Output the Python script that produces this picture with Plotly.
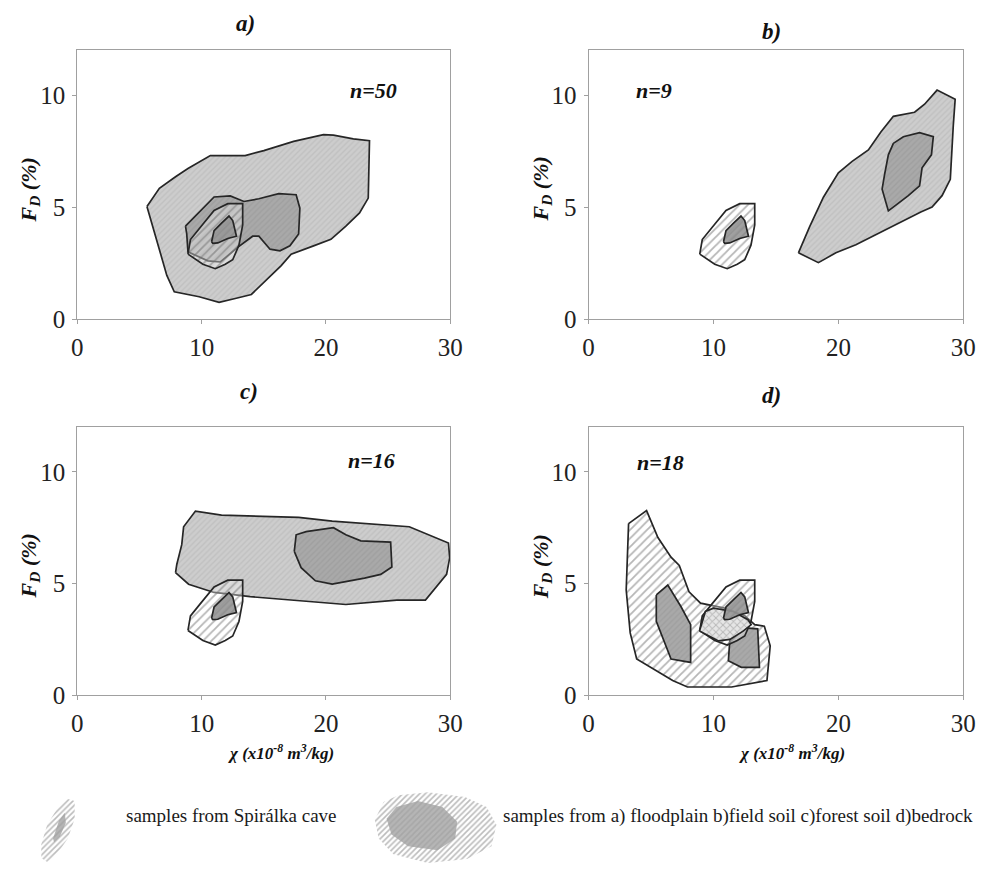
import plotly.graph_objects as go

# ---------------- data (chi x10^-8 m3/kg, FD %) ----------------
# Spirálka cave samples (same in every panel)
cave_outer_x = [8.9, 9.1, 9.9, 11.0, 12.1, 13.3, 13.3, 13.0, 12.5, 11.9, 11.1, 10.1]
cave_outer_y = [2.9, 3.55, 4.1, 4.85, 5.15, 5.15, 4.2, 3.3, 2.65, 2.45, 2.25, 2.45]
cave_inner_x = [10.8, 11.0, 11.6, 12.2, 12.5, 12.8, 12.1, 11.3, 10.9]
cave_inner_y = [3.45, 3.95, 4.28, 4.6, 4.4, 3.7, 3.6, 3.4, 3.38]

# a) floodplain
flood_outer_x = [5.6, 6.6, 7.9, 8.9, 10.7, 13.5, 15.0, 17.4, 19.8, 20.6, 22.2, 23.5, 23.4, 22.7,
                 21.6, 20.4, 19.0, 17.2, 16.4, 14.5, 14.0, 12.7, 11.4, 9.8, 7.8, 7.2, 6.6, 6.1]
flood_outer_y = [5.03, 5.84, 6.35, 6.72, 7.3, 7.3, 7.52, 7.93, 8.23, 8.21, 8.04, 7.96, 5.4, 4.74,
                 4.15, 3.56, 3.27, 2.9, 2.39, 1.36, 1.1, 0.92, 0.75, 1.0, 1.22, 1.95, 3.12, 4.15]
flood_inner_x = [8.7, 11.0, 12.3, 13.4, 14.6, 16.2, 17.6, 17.9, 17.8, 17.1, 16.3, 15.5, 14.6, 14.1,
                 12.9, 11.5, 10.5, 8.9, 8.8]
flood_inner_y = [4.15, 5.45, 5.5, 5.25, 5.37, 5.6, 5.55, 4.95, 3.8, 3.27, 3.05, 3.12, 3.7, 3.7,
                 3.2, 2.55, 2.6, 3.0, 3.8]

# b) field soil
field_outer_x = [16.8, 17.7, 18.8, 20.0, 21.1, 22.4, 23.4, 24.4, 26.1, 26.9, 27.9, 29.35, 29.2,
                 28.96, 28.3, 27.5, 26.6, 24.0, 21.4, 19.8, 18.4]
field_outer_y = [2.96, 4.13, 5.44, 6.53, 7.04, 7.55, 8.35, 9.05, 9.23, 9.59, 10.22, 9.81, 8.64,
                 6.24, 5.51, 5.0, 4.78, 4.05, 3.32, 2.96, 2.52]
field_inner_x = [24.4, 25.2, 26.5, 27.6, 27.45, 26.7, 26.5, 25.6, 24.0, 23.5, 23.7, 24.0]
field_inner_y = [7.84, 8.14, 8.32, 8.14, 7.33, 6.75, 5.95, 5.51, 4.83, 5.8, 6.46, 7.33]

# c) forest soil
forest_outer_x = [7.9, 8.0, 8.4, 8.55, 9.5, 11.6, 17.8, 20.5, 26.7, 28.3, 29.85, 29.95, 29.7,
                  28.0, 25.7, 21.6, 17.8, 13.9, 11.0, 8.95]
forest_outer_y = [5.49, 5.85, 6.74, 7.54, 8.24, 8.06, 7.96, 7.79, 7.54, 7.18, 6.81, 6.15, 5.41,
                  4.26, 4.26, 4.06, 4.24, 4.41, 4.6, 4.97]
forest_inner_x = [17.45, 17.6, 18.4, 20.6, 21.6, 22.8, 25.2, 25.3, 24.4, 23.1, 20.5, 19.15, 18.0]
forest_inner_y = [6.44, 7.18, 7.32, 7.5, 7.18, 6.91, 6.85, 5.74, 5.41, 5.24, 4.97, 5.12, 5.71]

# d) bedrock
bed_outer_x = [3.2, 4.64, 5.55, 6.6, 7.26, 7.73, 8.04, 8.96, 10.9, 12.5, 13.3, 14.07, 14.54,
               14.28, 11.45, 7.91, 6.73, 3.85, 3.33, 3.01]
bed_outer_y = [7.68, 8.26, 7.06, 6.18, 5.81, 5.15, 4.63, 4.12, 3.9, 3.56, 3.16, 3.09, 2.21,
               0.66, 0.37, 0.37, 0.66, 1.62, 2.79, 4.71]
bed_in1_x = [5.42, 6.34, 7.39, 8.17, 8.17, 6.6, 5.42]
bed_in1_y = [4.49, 4.93, 3.97, 3.16, 1.47, 1.62, 3.31]
bed_in2_x = [11.32, 12.5, 13.54, 13.68, 12.23, 11.19]
bed_in2_y = [2.57, 3.01, 2.97, 1.25, 1.25, 1.54]
bed_in3_x = [8.88, 9.35, 10.0, 11.58, 12.76, 13.02, 12.37, 11.32, 10.4, 9.61]
bed_in3_y = [2.87, 3.75, 3.9, 3.75, 3.38, 3.16, 2.87, 2.5, 2.43, 2.65]

panel_labels = ["a)", "b)", "c)", "d)"]
n_labels = ["n=50", "n=9", "n=16", "n=18"]
x_ticks = [0, 10, 20, 30]
y_ticks = [0, 5, 10]

# legend icons (pixel space of the bottom strip)
leg1_outer_x = [36, 42, 52, 63, 70, 70, 63, 52, 42, 36]
leg1_outer_y = [858, 838, 822, 812, 814, 832, 852, 868, 876, 872]
leg1_inner_x = [48, 54, 60, 61, 55, 49]
leg1_inner_y = [852, 834, 826, 836, 850, 856]
leg2_outer_x = [376, 385, 400, 430, 468, 490, 500, 495, 470, 430, 395, 380]
leg2_outer_y = [833, 815, 808, 805, 810, 820, 838, 860, 873, 877, 868, 852]
leg2_inner_x = [388, 398, 420, 445, 460, 458, 440, 410, 393]
leg2_inner_y = [832, 820, 814, 820, 835, 852, 864, 860, 848]

# ---------------- styles ----------------
W, H = 991, 879
SERIF = "Liberation Serif, Times New Roman, serif"
OUT = "#262626"

P_OUTER = dict(shape="/", bgcolor="#cdcdcd", fgcolor="#b4b4b4", size=4, solidity=0.35)
P_INNER = dict(shape="/", bgcolor="#a9a9a9", fgcolor="#959595", size=4, solidity=0.35)
P_CAVE = dict(shape="/", bgcolor="rgba(255,255,255,0.35)", fgcolor="#6e6e6e", size=6, solidity=0.3)
P_CAVE_IN = dict(shape="/", bgcolor="rgba(150,150,150,0.9)", fgcolor="#858585", size=5, solidity=0.3)
P_CROSS = dict(shape="x", bgcolor="#e6e6e6", fgcolor="#8a8a8a", size=5, solidity=0.35)
P_LEG = dict(shape="/", bgcolor="rgba(255,255,255,0)", fgcolor="#7a7a7a", size=4, solidity=0.4)
P_LEG_IN = dict(shape="/", bgcolor="#b5b5b5", fgcolor="#9a9a9a", size=4, solidity=0.4)


def poly(xs, ys, k, pattern, lw=1.7):
    return go.Scatter(
        x=list(xs) + [xs[0]], y=list(ys) + [ys[0]],
        mode="lines", fill="toself", fillpattern=pattern,
        fillcolor=pattern["bgcolor"],
        line=dict(color=OUT if lw > 0 else "rgba(0,0,0,0)", width=lw),
        xaxis="x" if k == 1 else f"x{k}", yaxis="y" if k == 1 else f"y{k}",
        hoverinfo="skip", showlegend=False)


fig = go.Figure()
# a
fig.add_trace(poly(flood_outer_x, flood_outer_y, 1, P_OUTER))
fig.add_trace(poly(flood_inner_x, flood_inner_y, 1, P_INNER))
fig.add_trace(poly(cave_outer_x, cave_outer_y, 1, P_CAVE))
fig.add_trace(poly(cave_inner_x, cave_inner_y, 1, P_CAVE_IN))
# b
fig.add_trace(poly(cave_outer_x, cave_outer_y, 2, P_CAVE))
fig.add_trace(poly(cave_inner_x, cave_inner_y, 2, P_CAVE_IN))
fig.add_trace(poly(field_outer_x, field_outer_y, 2, P_OUTER))
fig.add_trace(poly(field_inner_x, field_inner_y, 2, P_INNER))
# c
fig.add_trace(poly(forest_outer_x, forest_outer_y, 3, P_OUTER))
fig.add_trace(poly(forest_inner_x, forest_inner_y, 3, P_INNER))
fig.add_trace(poly(cave_outer_x, cave_outer_y, 3, P_CAVE))
fig.add_trace(poly(cave_inner_x, cave_inner_y, 3, P_CAVE_IN))
# d
fig.add_trace(poly(bed_outer_x, bed_outer_y, 4, P_CAVE))
fig.add_trace(poly(bed_in1_x, bed_in1_y, 4, P_INNER))
fig.add_trace(poly(bed_in2_x, bed_in2_y, 4, P_INNER))
fig.add_trace(poly(cave_outer_x, cave_outer_y, 4, P_CAVE))
fig.add_trace(poly(bed_in3_x, bed_in3_y, 4, P_CROSS))
fig.add_trace(poly(cave_inner_x, cave_inner_y, 4, P_CAVE_IN))
# legend icons
fig.add_trace(poly(leg1_outer_x, leg1_outer_y, 5, P_LEG, lw=0))
fig.add_trace(poly(leg1_inner_x, leg1_inner_y, 5, P_LEG_IN, lw=0))
fig.add_trace(poly(leg2_outer_x, leg2_outer_y, 5, P_LEG, lw=0))
fig.add_trace(poly(leg2_inner_x, leg2_inner_y, 5, P_LEG_IN, lw=0))

xd_left = [72.7 / W, 453 / W]
xd_right = [594 / W, 976 / W]
yd_top = [1 - 324.3 / H, 1 - 51 / H]
yd_bot = [1 - 706.5 / H, 1 - 434 / H]

axis_common = dict(showgrid=False, zeroline=False, showline=True, linecolor="#a0a0a0",
                   linewidth=1, mirror=True, ticks="outside", ticklen=4, tickcolor="#a0a0a0",
                   ticklabelstandoff=2,
                   tickfont=dict(family=SERIF, size=25, color="#222"), fixedrange=True)

doms = [(xd_left, yd_top), (xd_right, yd_top), (xd_left, yd_bot), (xd_right, yd_bot)]
layout = {}
for i, (xd, yd) in enumerate(doms, start=1):
    sx = "" if i == 1 else str(i)
    layout[f"xaxis{sx}"] = dict(axis_common, domain=xd, range=[0, 30], tickvals=x_ticks,
                                anchor=f"y{sx}")
    layout[f"yaxis{sx}"] = dict(axis_common, domain=yd, range=[0, 12], tickvals=y_ticks,
                                anchor=f"x{sx}")
layout["xaxis5"] = dict(domain=[0, 1], range=[0, W], visible=False, anchor="y5", fixedrange=True)
layout["yaxis5"] = dict(domain=[0, 1 - 790 / H], range=[H, 790], visible=False, anchor="x5",
                        fixedrange=True)
fig.update_layout(**layout)


def px(x, y):
    return x / W, 1 - y / H


def note(text, x, y, size, xanchor="center", angle=0, color="#111", bold=True):
    ax, ay = px(x, y)
    font = dict(family=SERIF, size=size, color=color)
    if bold:
        font.update(weight="bold", style="italic")
    return dict(text=text, x=ax, y=ay, xref="paper", yref="paper", xanchor=xanchor,
                yanchor="middle", showarrow=False, textangle=angle, font=font)


ann = []
title_pos = [(244, 24), (780, 32), (248, 398), (780, 402)]
for lab, (x, y) in zip(panel_labels, title_pos):
    ann.append(note(lab, x, y, 23))
n_pos = [(375, 92), (661, 92), (373, 468), (667, 470)]
for lab, (x, y) in zip(n_labels, n_pos):
    ann.append(note(lab, x, y, 22))
fd_pos = [(24, 193), (546, 192), (24, 575), (546, 576)]
for (x, y) in fd_pos:
    ann.append(note("F<sub>D</sub> (%)", x, y, 22, angle=-90))
chi_pos = [(280, 764), (801, 764)]
for (x, y) in chi_pos:
    ann.append(note("χ (x10<sup>-8</sup> m<sup>3</sup>/kg)", x, y, 17))
leg_text = [("samples from Spirálka cave", 120),
            ("samples from a) floodplain b)field soil c)forest soil d)bedrock", 505)]
for t, x in leg_text:
    ann.append(note(t, x, 829, 19, xanchor="left", color="#1a1a1a", bold=False))

fig.update_layout(width=W, height=H, margin=dict(l=0, r=0, t=0, b=0),
                  paper_bgcolor="white", plot_bgcolor="white", annotations=ann,
                  showlegend=False)

fig.write_html("out.html")
